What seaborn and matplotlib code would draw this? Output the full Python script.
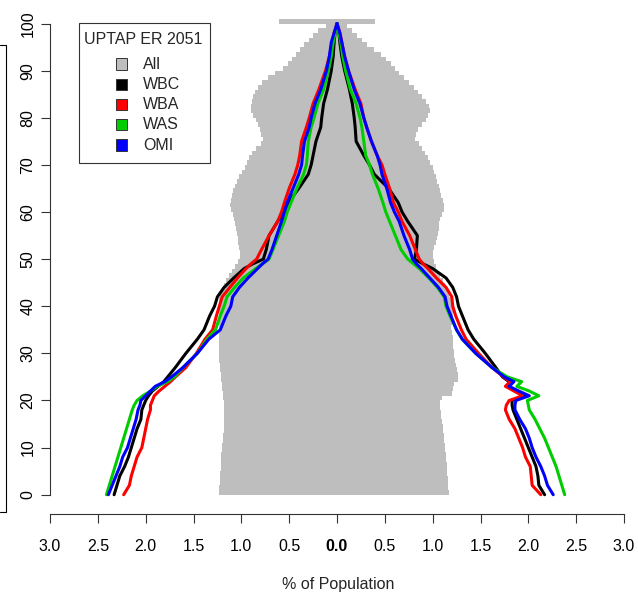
import matplotlib
import matplotlib.pyplot as plt
import numpy as np
import pandas as pd
import seaborn as sns
from matplotlib.lines import Line2D
from matplotlib.patches import Rectangle

matplotlib.use("Agg")

# single-year ages for the grey "All" pyramid (last bar is 100+)
AGES_ALL = list(range(0, 101))
ALL_LEFT = [
    1.23, 1.23, 1.22, 1.22, 1.22, 1.21, 1.21, 1.21, 1.21, 1.20,
    1.20, 1.19, 1.19, 1.18, 1.18, 1.18, 1.18, 1.18, 1.18, 1.18,
    1.19, 1.19, 1.20, 1.20, 1.21, 1.21, 1.22, 1.22, 1.23, 1.23,
    1.23, 1.23, 1.23, 1.23, 1.23, 1.23, 1.23, 1.23, 1.23, 1.23,
    1.23, 1.23, 1.22, 1.20, 1.18, 1.16, 1.13, 1.10, 1.07, 1.04,
    1.01, 1.01, 1.02, 1.03, 1.04, 1.05, 1.06, 1.07, 1.08, 1.09,
    1.11, 1.12, 1.11, 1.10, 1.09, 1.07, 1.05, 1.02, 0.99, 0.96,
    0.94, 0.92, 0.89, 0.85, 0.79, 0.77, 0.79, 0.81, 0.83, 0.85,
    0.88, 0.90, 0.90, 0.89, 0.88, 0.86, 0.83, 0.78, 0.72, 0.65,
    0.56, 0.51, 0.47, 0.43, 0.39, 0.35, 0.29, 0.25, 0.20, 0.12,
    0.61,
]
ALL_RIGHT = [
    1.17, 1.16, 1.16, 1.16, 1.15, 1.15, 1.15, 1.14, 1.14, 1.13,
    1.13, 1.12, 1.12, 1.11, 1.11, 1.10, 1.09, 1.09, 1.08, 1.08,
    1.10, 1.20, 1.21, 1.22, 1.26, 1.26, 1.25, 1.24, 1.23, 1.22,
    1.22, 1.21, 1.21, 1.21, 1.20, 1.19, 1.20, 1.21, 1.21, 1.21,
    1.20, 1.19, 1.17, 1.15, 1.13, 1.11, 1.08, 1.05, 1.03, 1.01,
    1.00, 1.00, 1.01, 1.03, 1.05, 1.06, 1.07, 1.07, 1.08, 1.10,
    1.12, 1.12, 1.11, 1.09, 1.08, 1.07, 1.05, 1.03, 1.01, 1.00,
    0.97, 0.95, 0.92, 0.89, 0.86, 0.82, 0.83, 0.85, 0.89, 0.93,
    0.95, 0.97, 0.96, 0.93, 0.89, 0.85, 0.80, 0.75, 0.70, 0.65,
    0.61, 0.56, 0.51, 0.46, 0.39, 0.31, 0.26, 0.21, 0.16, 0.10,
    0.40,
]

# ages at which the scenario lines were read
AGES_LINE = [0, 2, 4, 6, 8, 10, 12, 14, 16, 18, 19, 20, 21, 22, 23, 24, 25, 27,
             30, 33, 35, 38, 40, 42, 44, 46, 48, 49, 50, 52, 55, 58, 60, 62, 65,
             68, 70, 72, 75, 78, 80, 83, 86, 90, 93, 96, 98, 100]

WBC_LEFT = [2.33, 2.30, 2.27, 2.22, 2.18, 2.15, 2.12, 2.09, 2.05, 2.04, 2.02, 2.00,
            1.97, 1.93, 1.87, 1.81, 1.77, 1.69, 1.58, 1.46, 1.39, 1.33, 1.28, 1.25,
            1.18, 1.08, 0.97, 0.88, 0.77, 0.74, 0.71, 0.62, 0.56, 0.51, 0.40, 0.30,
            0.27, 0.25, 0.22, 0.17, 0.16, 0.14, 0.10, 0.06, 0.04, 0.03, 0.02, 0.0]
WBA_LEFT = [2.23, 2.17, 2.15, 2.12, 2.09, 2.04, 2.02, 2.00, 1.98, 1.95, 1.95, 1.93,
            1.91, 1.86, 1.80, 1.74, 1.69, 1.58, 1.47, 1.38, 1.30, 1.26, 1.23, 1.20,
            1.12, 1.04, 0.95, 0.90, 0.84, 0.79, 0.71, 0.62, 0.58, 0.55, 0.50, 0.44,
            0.41, 0.39, 0.37, 0.32, 0.29, 0.25, 0.19, 0.12, 0.08, 0.05, 0.03, 0.0]
WAS_LEFT = [2.41, 2.38, 2.35, 2.32, 2.29, 2.26, 2.23, 2.20, 2.17, 2.14, 2.12, 2.09,
            2.03, 1.95, 1.88, 1.77, 1.70, 1.61, 1.46, 1.36, 1.27, 1.22, 1.18, 1.15,
            1.07, 0.98, 0.85, 0.78, 0.71, 0.67, 0.61, 0.55, 0.52, 0.48, 0.42, 0.35,
            0.32, 0.31, 0.30, 0.27, 0.24, 0.20, 0.14, 0.09, 0.06, 0.04, 0.02, 0.0]
OMI_LEFT = [2.39, 2.35, 2.31, 2.27, 2.24, 2.19, 2.16, 2.13, 2.10, 2.08, 2.06, 2.05,
            2.00, 1.95, 1.90, 1.80, 1.73, 1.61, 1.46, 1.34, 1.22, 1.16, 1.11, 1.09,
            1.02, 0.93, 0.83, 0.78, 0.72, 0.68, 0.63, 0.58, 0.55, 0.52, 0.46, 0.40,
            0.37, 0.36, 0.34, 0.29, 0.27, 0.23, 0.17, 0.11, 0.08, 0.06, 0.03, 0.0]

WBC_RIGHT = [2.17, 2.11, 2.10, 2.08, 2.04, 2.00, 1.96, 1.92, 1.88, 1.84, 1.83, 1.83,
             1.97, 1.88, 1.78, 1.80, 1.73, 1.66, 1.55, 1.43, 1.37, 1.31, 1.27, 1.25,
             1.21, 1.14, 1.00, 0.90, 0.81, 0.83, 0.84, 0.74, 0.68, 0.64, 0.54, 0.39,
             0.34, 0.28, 0.20, 0.19, 0.18, 0.16, 0.13, 0.08, 0.05, 0.03, 0.02, 0.0]
WBA_RIGHT = [2.13, 2.04, 2.03, 2.02, 1.97, 1.94, 1.90, 1.86, 1.80, 1.76, 1.77, 1.80,
             1.94, 1.85, 1.76, 1.81, 1.74, 1.62, 1.48, 1.35, 1.30, 1.24, 1.21, 1.20,
             1.14, 1.04, 0.95, 0.90, 0.86, 0.82, 0.76, 0.68, 0.64, 0.59, 0.55, 0.50,
             0.47, 0.42, 0.36, 0.31, 0.28, 0.25, 0.19, 0.12, 0.08, 0.05, 0.03, 0.0]
WAS_RIGHT = [2.38, 2.35, 2.32, 2.29, 2.25, 2.21, 2.17, 2.12, 2.07, 2.01, 2.00, 1.99,
             2.11, 2.01, 1.88, 1.93, 1.78, 1.62, 1.45, 1.31, 1.25, 1.18, 1.14, 1.12,
             1.05, 0.96, 0.86, 0.80, 0.74, 0.67, 0.61, 0.55, 0.51, 0.48, 0.43, 0.37,
             0.34, 0.30, 0.28, 0.26, 0.24, 0.20, 0.14, 0.09, 0.06, 0.04, 0.02, 0.0]
OMI_RIGHT = [2.26, 2.20, 2.17, 2.13, 2.08, 2.04, 2.01, 1.97, 1.91, 1.86, 1.86, 1.87,
             2.01, 1.90, 1.80, 1.85, 1.75, 1.62, 1.45, 1.31, 1.25, 1.19, 1.15, 1.13,
             1.06, 0.97, 0.88, 0.83, 0.79, 0.76, 0.70, 0.65, 0.60, 0.56, 0.52, 0.47,
             0.45, 0.42, 0.36, 0.31, 0.28, 0.24, 0.18, 0.12, 0.08, 0.05, 0.03, 0.0]

SCENARIOS = ["WBC", "WBA", "WAS", "OMI"]
COLORS = ["#000000", "#FF0000", "#00CD00", "#0000FF"]
GREY = "#BEBEBE"
LEGEND_TITLE = "UPTAP ER 2051"
X_TICKS = [-3.0, -2.5, -2.0, -1.5, -1.0, -0.5, 0.0, 0.5, 1.0, 1.5, 2.0, 2.5, 3.0]
Y_TICKS = [0, 10, 20, 30, 40, 50, 60, 70, 80, 90, 100]

W, H = 638, 597

sns.set_style("ticks")
plt.rcParams["font.family"] = ["Liberation Sans", "DejaVu Sans"]
plt.rcParams["font.size"] = 11.5

left_lines = {"WBC": WBC_LEFT, "WBA": WBA_LEFT, "WAS": WAS_LEFT, "OMI": OMI_LEFT}
right_lines = {"WBC": WBC_RIGHT, "WBA": WBA_RIGHT, "WAS": WAS_RIGHT, "OMI": OMI_RIGHT}
frames = []
for name in SCENARIOS:
    frames.append(pd.DataFrame({"age": AGES_LINE, "pct": -np.array(left_lines[name]),
                                "scenario": name, "side": "left"}))
    frames.append(pd.DataFrame({"age": AGES_LINE, "pct": np.array(right_lines[name]),
                                "scenario": name, "side": "right"}))
lines_df = pd.concat(frames, ignore_index=True)

fig = plt.figure(figsize=(W / 100, H / 100), dpi=100)
ax = fig.add_axes([50 / W, 83.3 / H, 574 / W, 509 / H])

ax.barh(AGES_ALL, -np.array(ALL_LEFT), height=1.0, align="edge", color=GREY,
        linewidth=0, antialiased=False)
ax.barh(AGES_ALL, ALL_RIGHT, height=1.0, align="edge", color=GREY,
        linewidth=0, antialiased=False)

sns.lineplot(data=lines_df, x="pct", y="age", hue="scenario", units="side",
             estimator=None, sort=False, hue_order=SCENARIOS, palette=COLORS,
             linewidth=2.2, legend=False, ax=ax)

ax.set_xlim(-3, 3)
ax.set_ylim(-4.03, 104)
for side in ["top", "right"]:
    ax.spines[side].set_visible(False)
for side in ["left", "bottom"]:
    ax.spines[side].set_color("#333333")
    ax.spines[side].set_linewidth(0.8)
ax.spines["left"].set_bounds(0, 100)
ax.spines["bottom"].set_bounds(-3, 3)

ax.set_xticks(X_TICKS)
ax.set_xticklabels([f"{abs(v):.1f}" for v in X_TICKS])
for lab, v in zip(ax.get_xticklabels(), X_TICKS):
    if v == 0:
        lab.set_fontweight("bold")
ax.set_yticks(Y_TICKS)
ax.set_yticklabels([str(v) for v in Y_TICKS], rotation=90, va="center")
ax.tick_params(axis="both", direction="out", length=6.5, width=0.8,
               color="#333333", labelsize=11.5, labelcolor="#000000")
ax.tick_params(axis="x", pad=12)
ax.tick_params(axis="y", pad=4)

ax.set_xlabel("% of Population", fontsize=11.5)
ax.xaxis.set_label_coords(0.5017, -0.124)
ax.set_ylabel("")


def fx(px):
    return px / W


def fy(py):
    return 1 - py / H


# legend box drawn like the R legend()
fig.add_artist(Rectangle((fx(79), fy(163.3)), fx(210) - fx(79), fy(22.7) - fy(163.3),
                         transform=fig.transFigure, fill=False, edgecolor="#333333",
                         linewidth=0.8))
fig.text(fx(143.5), fy(39), LEGEND_TITLE, ha="center", va="center", fontsize=11.5)
legend_names = ["All"] + SCENARIOS
legend_colors = [GREY] + COLORS
for i, (name, col) in enumerate(zip(legend_names, legend_colors)):
    cy = 64.3 + i * 20.2
    fig.add_artist(Rectangle((fx(115.5), fy(cy + 5.5)), fx(11.5), 11.5 / H,
                             transform=fig.transFigure, facecolor=col,
                             edgecolor="#333333", linewidth=0.7))
    fig.text(fx(143), fy(cy), name, ha="left", va="center", fontsize=11.5)

# edge of a neighbouring panel visible at the left border
fig.add_artist(Line2D([fx(0), fx(6), fx(6), fx(0)], [fy(45), fy(45), fy(512), fy(512)],
                      transform=fig.transFigure, color="#000000", linewidth=0.8))

fig.savefig("out.png", dpi=100)
